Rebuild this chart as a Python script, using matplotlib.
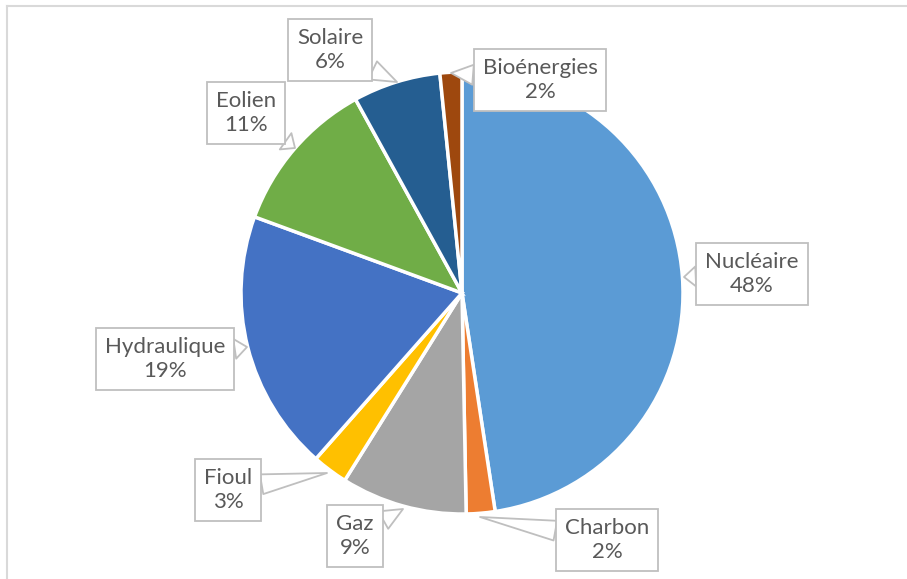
import matplotlib.pyplot as plt
from matplotlib.lines import Line2D

# production d'electricite par filiere (%)
sources = ["Nucléaire", "Charbon", "Gaz", "Fioul", "Hydraulique", "Eolien", "Solaire", "Bioénergies"]
values = [47.6, 2.1, 9.2, 2.6, 19.1, 11.4, 6.4, 1.6]
colors = ["#5B9BD5", "#ED7D31", "#A5A5A5", "#FFC000", "#4472C4", "#70AD47", "#255E91", "#9E480E"]

# label box centres and callout tips, in pixels from top-left
label_pos = [(752, 274), (607, 540), (355, 536), (228, 490), (165, 359), (246, 113), (330, 50), (540, 80)]
tip_pos = [(684, 277), (480, 517), (403, 509), (327, 473), (247, 347), (295, 148), (397, 82), (451, 73)]

W, H = 907, 579
fig = plt.figure(figsize=(W / 100, H / 100), dpi=100)
ax = fig.add_axes([0, 0, 1, 1])

ax.pie(values, colors=colors, startangle=90, counterclock=False,
       center=(462, H - 293), radius=221,
       wedgeprops=dict(edgecolor="white", linewidth=2.5))

# pie() resets the limits, so set them afterwards
ax.set_xlim(0, W)
ax.set_ylim(0, H)
ax.set_aspect("equal")
ax.axis("off")

total = sum(values)
for name, v, (lx, ly), (tx, ty) in zip(sources, values, label_pos, tip_pos):
    ax.annotate(f"{name}\n{round(v / total * 100)}%",
                xy=(tx, H - ty), xytext=(lx, H - ly),
                ha="center", va="center", fontsize=16, family="Lato",
                color="#595959", linespacing=1.3,
                bbox=dict(boxstyle="square,pad=0.4", fc="white", ec="#BFBFBF", lw=1.3),
                arrowprops=dict(arrowstyle="wedge,tail_width=0.9,shrink_factor=0.5",
                                fc="white", ec="#BFBFBF", lw=1.3, shrinkA=0, shrinkB=0))

# chart area frame
fig.add_artist(Line2D([7 / W, 7 / W], [0, 1 - 6 / H], color="#D9D9D9", lw=1.5))
fig.add_artist(Line2D([7 / W, 1], [1 - 6 / H, 1 - 6 / H], color="#D9D9D9", lw=1.5))

plt.savefig("out.png", dpi=100)
